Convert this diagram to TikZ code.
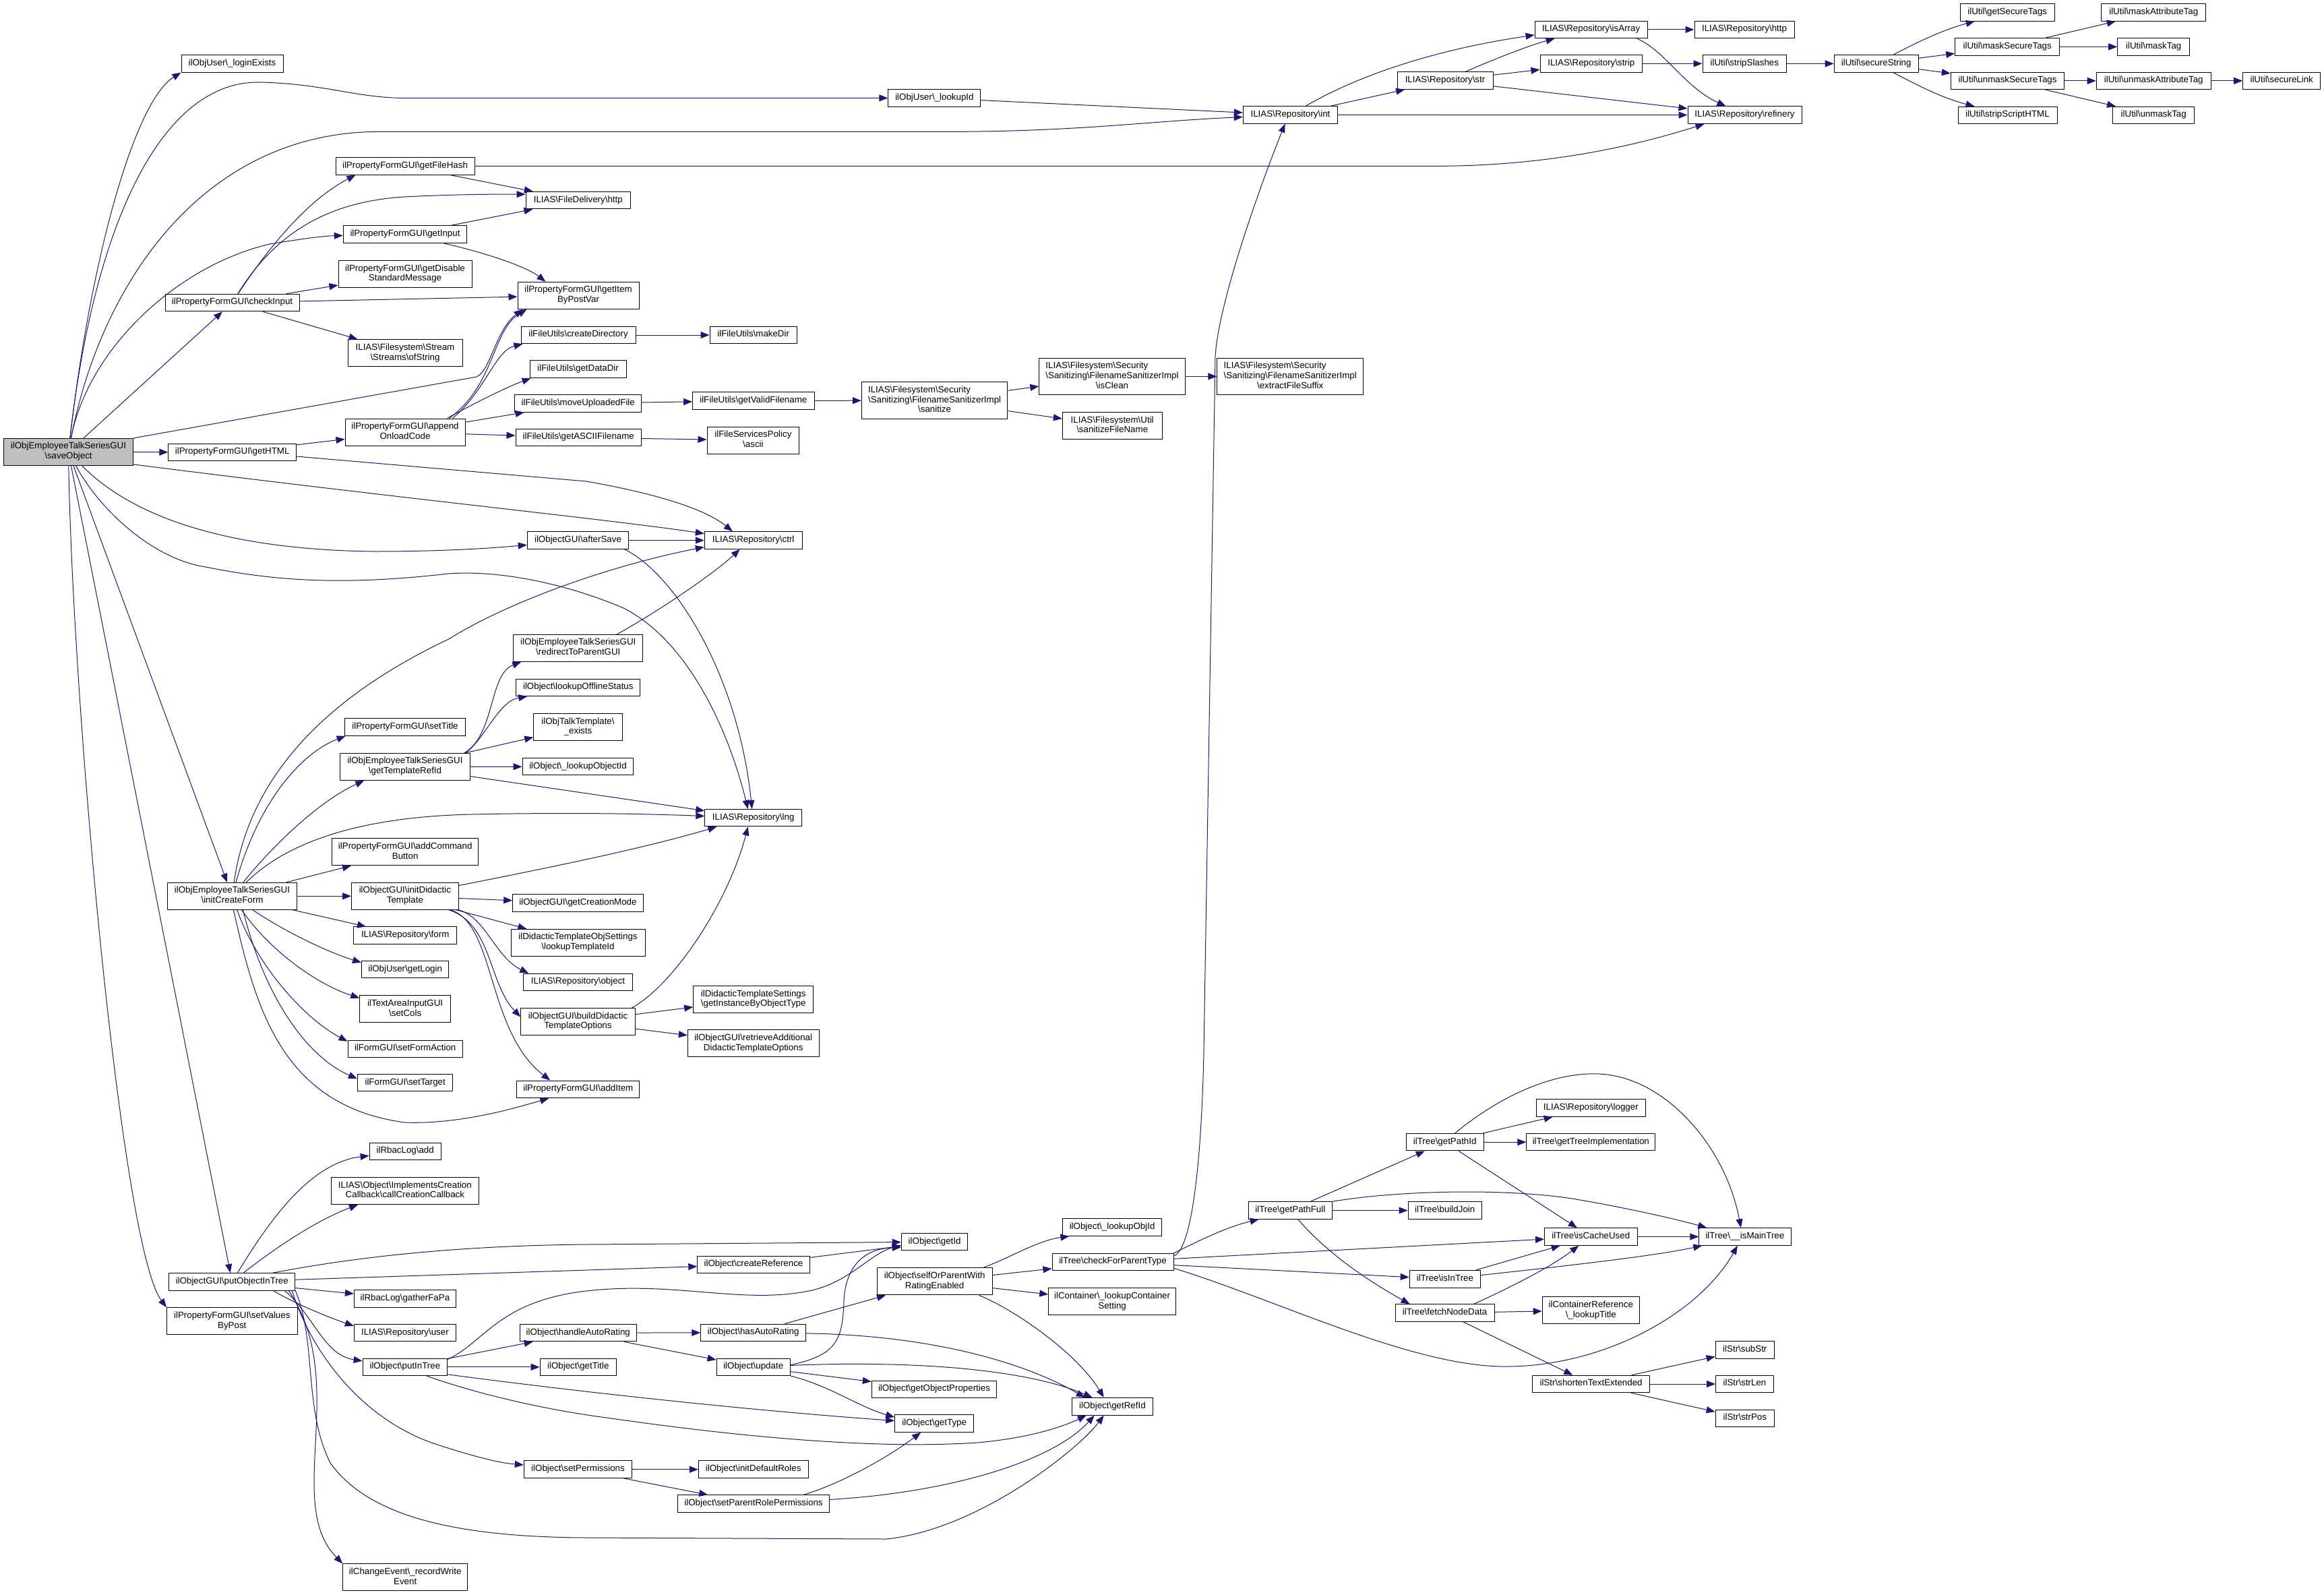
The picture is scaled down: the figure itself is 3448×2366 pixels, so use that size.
\documentclass[tikz,border=0pt]{standalone}
\usepackage{fontspec}
\setmainfont{Liberation Sans}
\usetikzlibrary{arrows.meta,calc}
\definecolor{edgeblue}{HTML}{191970}
\definecolor{mainfill}{HTML}{BFBFBF}
\newcommand{\BS}{\textbackslash}
\newlength\padlen
\newcommand{\padto}[2]{\settowidth{\padlen}{#2}\makebox[\padlen][l]{#1}}
\newcommand{\SanLine}{\BS{}Sanitizing\BS{}FilenameSanitizerImpl}
\newcommand{\SecLine}{\padto{ILIAS\BS{}Filesystem\BS{}Security}{\SanLine}}
\newcommand{\ntx}[1]{\begin{tabular}{@{}c@{}}#1\end{tabular}}
\begin{document}
\begin{tikzpicture}[x=1pt,y=-1pt,
  nbox/.style={draw=black, line width=1pt, fill=white, rectangle, inner xsep=1pt, inner ysep=0pt,
    font=\fontsize{13.33pt}{14.8pt}\selectfont},
  n1/.style={nbox, minimum height=25.5pt},
  n2/.style={nbox, minimum height=40pt},
  n3/.style={nbox, minimum height=54.6pt},
  edge/.style={draw=edgeblue, line width=1pt, -{Triangle[length=13pt,width=10pt]}}
]
\fill[white] (0,0) rectangle (3448,2366);
\useasboundingbox (0,0) rectangle (3448,2366);

% ---------- nodes ----------
\node[n2, fill=mainfill, minimum width=192pt] (S) at (101.5,670.4) {\ntx{ilObjEmployeeTalkSeriesGUI\\\BS{}saveObject}};
\node[n1, minimum width=151pt] (loginExists) at (344.5,94.4) {\ntx{ilObjUser\BS{}\_loginExists}};
\node[n1, minimum width=137pt] (lookupId) at (1386.4,145.4) {\ntx{ilObjUser\BS{}\_lookupId}};
\node[n1, minimum width=140.4pt] (int) at (1914.5,170.4) {\ntx{ILIAS\BS{}Repository\BS{}int}};
\node[n1, minimum width=142pt] (str) at (2144,119.6) {\ntx{ILIAS\BS{}Repository\BS{}str}};
\node[n1, minimum width=167pt] (isArray) at (2360.6,43.9) {\ntx{ILIAS\BS{}Repository\BS{}isArray}};
\node[n1, minimum width=151.5pt] (strip) at (2360.8,94.4) {\ntx{ILIAS\BS{}Repository\BS{}strip}};
\node[n1, minimum width=169pt] (refinery) at (2588.5,170.7) {\ntx{ILIAS\BS{}Repository\BS{}refinery}};
\node[n1, minimum width=148pt] (repHttp) at (2588,43.9) {\ntx{ILIAS\BS{}Repository\BS{}http}};
\node[n1, minimum width=124.6pt] (stripSlashes) at (2588.3,94.4) {\ntx{ilUtil\BS{}stripSlashes}};
\node[n1, minimum width=125pt] (secureString) at (2783.7,94.4) {\ntx{ilUtil\BS{}secureString}};
\node[n1, minimum width=140pt] (getSecureTags) at (2978.2,18.4) {\ntx{ilUtil\BS{}getSecureTags}};
\node[n1, minimum width=155pt] (maskSecureTags) at (2978.2,69.4) {\ntx{ilUtil\BS{}maskSecureTags}};
\node[n1, minimum width=168.4pt] (unmaskSecureTags) at (2978.5,119.9) {\ntx{ilUtil\BS{}unmaskSecureTags}};
\node[n1, minimum width=147pt] (stripScriptHTML) at (2978.5,171) {\ntx{ilUtil\BS{}stripScriptHTML}};
\node[n1, minimum width=155pt] (maskAttributeTag) at (3195.2,18.4) {\ntx{ilUtil\BS{}maskAttributeTag}};
\node[n1, minimum width=107pt] (maskTag) at (3195.2,69.4) {\ntx{ilUtil\BS{}maskTag}};
\node[n1, minimum width=170pt] (unmaskAttributeTag) at (3195.2,119.9) {\ntx{ilUtil\BS{}unmaskAttributeTag}};
\node[n1, minimum width=120.8pt] (unmaskTag) at (3195.2,171) {\ntx{ilUtil\BS{}unmaskTag}};
\node[n1, minimum width=115pt] (secureLink) at (3385.2,119.9) {\ntx{ilUtil\BS{}secureLink}};
\node[n1, minimum width=206pt] (getFileHash) at (601,246.4) {\ntx{ilPropertyFormGUI\BS{}getFileHash}};
\node[n1, minimum width=155.5pt] (fdHttp) at (857.8,297.2) {\ntx{ILIAS\BS{}FileDelivery\BS{}http}};
\node[n1, minimum width=183.5pt] (getInput) at (601,347.7) {\ntx{ilPropertyFormGUI\BS{}getInput}};
\node[n2, minimum width=198pt] (gDSM) at (601,406.6) {\ntx{ilPropertyFormGUI\BS{}getDisable\\StandardMessage}};
\node[n1, minimum width=199pt] (checkInput) at (344.5,449) {\ntx{ilPropertyFormGUI\BS{}checkInput}};
\node[n2, minimum width=180pt] (gIBPV) at (858,438.3) {\ntx{ilPropertyFormGUI\BS{}getItem\\ByPostVar}};
\node[n2, minimum width=170pt] (ofString) at (601,523.7) {\ntx{ILIAS\BS{}Filesystem\BS{}Stream\\\BS{}Streams\BS{}ofString}};
\node[n1, minimum width=170pt] (createDirectory) at (858,497) {\ntx{ilFileUtils\BS{}createDirectory}};
\node[n1, minimum width=129.4pt] (makeDir) at (1117.7,497) {\ntx{ilFileUtils\BS{}makeDir}};
\node[n1, minimum width=143pt] (getDataDir) at (857.5,547.7) {\ntx{ilFileUtils\BS{}getDataDir}};
\node[n1, minimum width=188pt] (moveUploadedFile) at (857.8,598.5) {\ntx{ilFileUtils\BS{}moveUploadedFile}};
\node[n1, minimum width=180.4pt] (getValidFilename) at (1117.8,594.4) {\ntx{ilFileUtils\BS{}getValidFilename}};
\node[n3, minimum width=216.5pt] (sanitize) at (1386.6,594.1) {\ntx{\SecLine\\\SanLine\\\BS{}sanitize}};
\node[n3, minimum width=216.3pt] (isClean) at (1650,558.4) {\ntx{\SecLine\\\SanLine\\\BS{}isClean}};
\node[n3, minimum width=216.5pt] (extractFileSuffix) at (1914.2,558.4) {\ntx{\SecLine\\\SanLine\\\BS{}extractFileSuffix}};
\node[n2, minimum width=147.6pt] (sanitizeFileName) at (1650.2,631.6) {\ntx{ILIAS\BS{}Filesystem\BS{}Util\\\BS{}sanitizeFileName}};
\node[n1, minimum width=186.6pt] (getASCIIFilename) at (858.3,649) {\ntx{ilFileUtils\BS{}getASCIIFilename}};
\node[n2, minimum width=136.8pt] (ascii) at (1117.4,653.1) {\ntx{ilFileServicesPolicy\\\BS{}ascii}};
\node[n2, minimum width=178pt] (aOC) at (601,641) {\ntx{ilPropertyFormGUI\BS{}append\\OnloadCode}};
\node[n1, minimum width=189.5pt] (getHTML) at (344.7,671) {\ntx{ilPropertyFormGUI\BS{}getHTML}};
\node[n1, minimum width=150.4pt] (afterSave) at (857.5,801.5) {\ntx{ilObjectGUI\BS{}afterSave}};
\node[n1, minimum width=144.8pt] (ctrl) at (1117.7,801.5) {\ntx{ILIAS\BS{}Repository\BS{}ctrl}};
\node[n1, minimum width=143.7pt] (lng) at (1117.7,1213.2) {\ntx{ILIAS\BS{}Repository\BS{}lng}};
\node[n2, minimum width=192pt] (redirect) at (857.8,961.4) {\ntx{ilObjEmployeeTalkSeriesGUI\\\BS{}redirectToParentGUI}};
\node[n1, minimum width=184.2pt] (lookupOfflineStatus) at (857.8,1019.8) {\ntx{ilObject\BS{}lookupOfflineStatus}};
\node[n2, minimum width=131.5pt] (exists) at (857.5,1078.5) {\ntx{ilObjTalkTemplate\BS{}\\\_exists}};
\node[n1, minimum width=164.8pt] (lookupObjectId) at (857.5,1137.2) {\ntx{ilObject\BS{}\_lookupObjectId}};
\node[n1, minimum width=179.8pt] (setTitle) at (601,1078.5) {\ntx{ilPropertyFormGUI\BS{}setTitle}};
\node[n2, minimum width=192.5pt] (gTRI) at (601,1137.4) {\ntx{ilObjEmployeeTalkSeriesGUI\\\BS{}getTemplateRefId}};
\node[n2, minimum width=217pt] (addCommandButton) at (601.2,1263.7) {\ntx{ilPropertyFormGUI\BS{}addCommand\\Button}};
\node[n2, minimum width=192pt] (iCF) at (344.5,1329.3) {\ntx{ilObjEmployeeTalkSeriesGUI\\\BS{}initCreateForm}};
\node[n2, minimum width=158.7pt] (iDT) at (600.9,1329.3) {\ntx{ilObjectGUI\BS{}initDidactic\\Template}};
\node[n1, minimum width=193.6pt] (getCreationMode) at (857.5,1339.7) {\ntx{ilObjectGUI\BS{}getCreationMode}};
\node[n2, minimum width=199pt] (lookupTemplateId) at (857.5,1398.4) {\ntx{ilDidacticTemplateObjSettings\\\BS{}lookupTemplateId}};
\node[n1, minimum width=161.4pt] (repObject) at (857.5,1457) {\ntx{ILIAS\BS{}Repository\BS{}object}};
\node[n2, minimum width=169.2pt] (bDTO) at (857.5,1515.5) {\ntx{ilObjectGUI\BS{}buildDidactic\\TemplateOptions}};
\node[n2, minimum width=178.1pt] (getInstance) at (1117.7,1482.6) {\ntx{ilDidacticTemplateSettings\\\BS{}getInstanceByObjectType}};
\node[n2, minimum width=194.7pt] (retrieve) at (1117.7,1547.9) {\ntx{ilObjectGUI\BS{}retrieveAdditional\\DidacticTemplateOptions}};
\node[n1, minimum width=152.6pt] (repForm) at (601.2,1387.7) {\ntx{ILIAS\BS{}Repository\BS{}form}};
\node[n1, minimum width=129.3pt] (getLogin) at (601.2,1438.2) {\ntx{ilObjUser\BS{}getLogin}};
\node[n2, minimum width=134.8pt] (setCols) at (601.2,1496.9) {\ntx{ilTextAreaInputGUI\\\BS{}setCols}};
\node[n1, minimum width=170.3pt] (setFormAction) at (601.2,1556) {\ntx{ilFormGUI\BS{}setFormAction}};
\node[n1, minimum width=141.5pt] (setTarget) at (601.2,1606.2) {\ntx{ilFormGUI\BS{}setTarget}};
\node[n1, minimum width=182pt] (addItem) at (857.8,1615.8) {\ntx{ilPropertyFormGUI\BS{}addItem}};
\node[n1, minimum width=106pt] (rbacAdd) at (601.2,1707.8) {\ntx{ilRbacLog\BS{}add}};
\node[n2, minimum width=218.6pt] (callback) at (600.9,1766.6) {\ntx{ILIAS\BS{}Object\BS{}ImplementsCreation\\Callback\BS{}callCreationCallback}};
\node[n1, minimum width=187pt] (pOIT) at (344.3,1901.3) {\ntx{ilObjectGUI\BS{}putObjectInTree}};
\node[n2, minimum width=193.6pt] (setValues) at (344.3,1959.7) {\ntx{ilPropertyFormGUI\BS{}setValues\\ByPost}};
\node[n1, minimum width=151pt] (gatherFaPa) at (600.9,1926.6) {\ntx{ilRbacLog\BS{}gatherFaPa}};
\node[n1, minimum width=151pt] (repUser) at (600.9,1977.1) {\ntx{ILIAS\BS{}Repository\BS{}user}};
\node[n1, minimum width=125.4pt] (putInTree) at (600.9,2027.8) {\ntx{ilObject\BS{}putInTree}};
\node[n1, minimum width=173.1pt] (handleAutoRating) at (857.8,1977.1) {\ntx{ilObject\BS{}handleAutoRating}};
\node[n1, minimum width=113.2pt] (getTitle) at (857.8,2027.8) {\ntx{ilObject\BS{}getTitle}};
\node[n1, minimum width=160.4pt] (setPermissions) at (857.5,2179.7) {\ntx{ilObject\BS{}setPermissions}};
\node[n2, minimum width=184.8pt] (recordWrite) at (601.2,2339.8) {\ntx{ilChangeEvent\BS{}\_recordWrite\\Event}};
\node[n1, minimum width=98.7pt] (getId) at (1386.6,1842.2) {\ntx{ilObject\BS{}getId}};
\node[n1, minimum width=166.4pt] (createReference) at (1118,1875.9) {\ntx{ilObject\BS{}createReference}};
\node[n2, minimum width=170.9pt] (selfOrParent) at (1386.6,1900.9) {\ntx{ilObject\BS{}selfOrParentWith\\RatingEnabled}};
\node[n1, minimum width=155.9pt] (hasAutoRating) at (1117.7,1976.8) {\ntx{ilObject\BS{}hasAutoRating}};
\node[n1, minimum width=109.3pt] (update) at (1117.7,2027.8) {\ntx{ilObject\BS{}update}};
\node[n1, minimum width=185.4pt] (getObjectProperties) at (1386,2060.9) {\ntx{ilObject\BS{}getObjectProperties}};
\node[n1, minimum width=117.1pt] (getType) at (1386.2,2111.6) {\ntx{ilObject\BS{}getType}};
\node[n1, minimum width=162.6pt] (initDefaultRoles) at (1117.7,2179.7) {\ntx{ilObject\BS{}initDefaultRoles}};
\node[n1, minimum width=225.3pt] (setParentRolePermissions) at (1118,2230.6) {\ntx{ilObject\BS{}setParentRolePermissions}};
\node[n1, minimum width=120.4pt] (getRefId) at (1650.4,2086.3) {\ntx{ilObject\BS{}getRefId}};
\node[n1, minimum width=146.5pt] (lookupObjId) at (1650.1,1820.6) {\ntx{ilObject\BS{}\_lookupObjId}};
\node[n1, minimum width=180pt] (checkForParentType) at (1651,1872) {\ntx{ilTree\BS{}checkForParentType}};
\node[n2, minimum width=188.6pt] (lookupContainerSetting) at (1650.1,1930.7) {\ntx{ilContainer\BS{}\_lookupContainer\\Setting}};
\node[n1, minimum width=114.9pt] (getPathId) at (2143.7,1694.2) {\ntx{ilTree\BS{}getPathId}};
\node[n1, minimum width=162pt] (logger) at (2360.3,1643.5) {\ntx{ILIAS\BS{}Repository\BS{}logger}};
\node[n1, minimum width=190.9pt] (getTreeImplementation) at (2360.3,1694.2) {\ntx{ilTree\BS{}getTreeImplementation}};
\node[n1, minimum width=124.3pt] (getPathFull) at (1914.3,1795.5) {\ntx{ilTree\BS{}getPathFull}};
\node[n1, minimum width=109.3pt] (buildJoin) at (2143.7,1795.5) {\ntx{ilTree\BS{}buildJoin}};
\node[n1, minimum width=137.6pt] (isCacheUsed) at (2360.3,1834.5) {\ntx{ilTree\BS{}isCacheUsed}};
\node[n1, minimum width=136.3pt] (isMainTree) at (2588.9,1834.5) {\ntx{ilTree\BS{}\_\_isMainTree}};
\node[n1, minimum width=105.4pt] (isInTree) at (2143.9,1897.3) {\ntx{ilTree\BS{}isInTree}};
\node[n1, minimum width=147pt] (fetchNodeData) at (2143.6,1947.6) {\ntx{ilTree\BS{}fetchNodeData}};
\node[n2, minimum width=144.2pt] (lookupTitle) at (2360.3,1943.7) {\ntx{ilContainerReference\\\BS{}\_lookupTitle}};
\node[n1, minimum width=173.7pt] (sTE) at (2360.6,2053) {\ntx{ilStr\BS{}shortenTextExtended}};
\node[n1, minimum width=87.3pt] (subStr) at (2588.8,2002.6) {\ntx{ilStr\BS{}subStr}};
\node[n1, minimum width=85.8pt] (strLen) at (2588.5,2053) {\ntx{ilStr\BS{}strLen}};
\node[n1, minimum width=87.3pt] (strPos) at (2588.8,2103.9) {\ntx{ilStr\BS{}strPos}};

% ---------- edges ----------
% saveObject
\draw[edge] (S) .. controls (135,380) and (200,150) .. (loginExists.south west);
\draw[edge] (S) .. controls (140,330) and (240,120) .. (385,122) .. controls (480,124) and (530,145.4) .. (600,145.4) -- (lookupId);
\draw[edge] (S) .. controls (150,420) and (300,200) .. (555,195.4) -- (1400,195.4) .. controls (1600,195.4) and (1700,180) .. (int);
\draw[edge] (S) -- (checkInput);
\draw[edge] (S) .. controls (130,520) and (260,395) .. (400,362) .. controls (450,354) and (480,350) .. (getInput);
\draw[edge] (S.north east) -- (707,559) .. controls (728,550) and (735,490) .. ($(gIBPV.south west)+(8,0)$);
\draw[edge] (S) -- (getHTML);
\draw[edge] ($(S.south east)+(0,-2)$) .. controls (600,740) and (900,770) .. ($(ctrl.west)+(0,-10)$);
\draw[edge] (S) .. controls (180,750) and (300,815) .. (555,818) .. controls (650,818) and (720,814) .. (afterSave);
\draw[edge] (S) .. controls (150,760) and (230,830) .. (305,841) .. controls (400,860) and (500,870) .. (665,851) .. controls (750,845) and (850,870) .. (925,902) .. controls (1020,950) and (1080,1080) .. ($(lng.north)+(-8,0)$);
\draw[edge] (S) -- (iCF);
\draw[edge] (S) -- (pOIT);
\draw[edge] (S) .. controls (108,1050) and (180,1850) .. (setValues.north west);
% checkInput & co
\draw[edge] (checkInput) .. controls (390,380) and (450,300) .. ($(getFileHash.south west)+(30,0)$);
\draw[edge] (checkInput) .. controls (400,360) and (470,300) .. (600,292) .. controls (680,288) and (740,288) .. ($(fdHttp.west)+(0,-9)$);
\draw[edge] (checkInput) -- (gDSM);
\draw[edge] (checkInput) -- (gIBPV);
\draw[edge] (checkInput) -- (ofString);
\draw[edge] (getFileHash) -- (fdHttp);
\draw[edge] (getFileHash) -- (2128,246.4) .. controls (2300,246.4) and (2430,215) .. ($(refinery.south west)+(25,0)$);
\draw[edge] (getInput) -- (fdHttp);
\draw[edge] (getInput) .. controls (720,375) and (780,395) .. ($(gIBPV.north west)+(42,0)$);
\draw[edge] (getHTML) -- (aOC);
\draw[edge] ($(getHTML.east)+(0,6)$) -- (870,714) .. controls (950,728) and (1040,750) .. ($(ctrl.north west)+(42,0)$);
\draw[edge] ($(aOC.north east)+(-24,0)$) .. controls (735,570) and (730,490) .. ($(gIBPV.south west)+(14,0)$);
\draw[edge] ($(aOC.north east)+(-19,0)$) .. controls (720,580) and (735,520) .. ($(createDirectory.south west)+(3,0)$);
\draw[edge] ($(aOC.north east)+(-27,0)$) .. controls (700,600) and (750,575) .. ($(getDataDir.south west)+(2,0)$);
\draw[edge] (aOC) -- (moveUploadedFile);
\draw[edge] (aOC) -- (getASCIIFilename);
\draw[edge] (createDirectory) -- (makeDir);
\draw[edge] (moveUploadedFile) -- (getValidFilename);
\draw[edge] (getASCIIFilename) -- (ascii);
\draw[edge] (getValidFilename) -- (sanitize);
\draw[edge] (sanitize) -- (isClean);
\draw[edge] (sanitize) -- (sanitizeFileName);
\draw[edge] (isClean) -- (extractFileSuffix);
% repository helpers
\draw[edge] (lookupId) -- (int);
\draw[edge] (int) .. controls (2010,115) and (2120,75) .. ($(isArray.west)+(0,8)$);
\draw[edge] (int) -- (str);
\draw[edge] (int) -- (refinery);
\draw[edge] (str) .. controls (2200,95) and (2260,70) .. ($(isArray.south west)+(30,0)$);
\draw[edge] (str) -- (strip);
\draw[edge] (str) -- (refinery);
\draw[edge] (isArray) -- (repHttp);
\draw[edge] ($(isArray.south east)+(-16,0)$) .. controls (2470,75) and (2500,130) .. ($(refinery.north west)+(57,0)$);
\draw[edge] (strip) -- (stripSlashes);
\draw[edge] (stripSlashes) -- (secureString);
\draw[edge] (secureString) .. controls (2840,65) and (2880,45) .. ($(getSecureTags.south west)+(22,0)$);
\draw[edge] (secureString) -- (maskSecureTags);
\draw[edge] (secureString) -- (unmaskSecureTags);
\draw[edge] (secureString) .. controls (2840,124) and (2880,145) .. ($(stripScriptHTML.north west)+(25,0)$);
\draw[edge] (maskSecureTags) -- (maskAttributeTag);
\draw[edge] (maskSecureTags) -- (maskTag);
\draw[edge] (unmaskSecureTags) -- (unmaskAttributeTag);
\draw[edge] (unmaskSecureTags) -- (unmaskTag);
\draw[edge] (unmaskAttributeTag) -- (secureLink);
% afterSave, redirect
\draw[edge] (afterSave) -- (ctrl);
\draw[edge] ($(afterSave.south east)+(-7,0)$) .. controls (1000,850) and (1095,1000) .. ($(lng.north)+(-2,0)$);
\draw[edge] ($(redirect.north east)+(-39,0)$) .. controls (980,905) and (1060,850) .. ($(ctrl.south)+(-20,0)$);
% initCreateForm
\draw[edge] (iCF) .. controls (365,1180) and (450,1050) .. (665.8,948) .. controls (750,895) and (900,840) .. ($(ctrl.west)+(0,10)$);
\draw[edge] (iCF) .. controls (380,1200) and (440,1120) .. ($(setTitle.south west)+(2,0)$);
\draw[edge] (iCF) .. controls (400,1260) and (470,1190) .. ($(gTRI.south west)+(36,0)$);
\draw[edge] (iCF) .. controls (420,1255) and (520,1212) .. (700,1208) .. controls (850,1205) and (950,1207) .. (lng);
\draw[edge] (iCF) -- (addCommandButton);
\draw[edge] (iCF) -- (iDT);
\draw[edge] (iCF) -- (repForm);
\draw[edge] (iCF) .. controls (420,1380) and (480,1410) .. ($(getLogin.north west)+(0,3)$);
\draw[edge] (iCF) .. controls (400,1410) and (470,1460) .. ($(setCols.north west)+(0,4)$);
\draw[edge] (iCF) .. controls (380,1430) and (450,1510) .. ($(setFormAction.north west)+(0,2)$);
\draw[edge] ($(iCF.south)+(16,0)$) .. controls (390,1470) and (450,1565) .. ($(setTarget.west)+(0,-6)$);
\draw[edge] ($(iCF.south)+(2,0)$) .. controls (380,1500) and (420,1640) .. (600,1665) .. controls (680,1668) and (760,1645) .. ($(addItem.south west)+(48,0)$);
% initDidacticTemplate
\draw[edge] (iDT) .. controls (800,1290) and (950,1260) .. ($(lng.south west)+(18,0)$);
\draw[edge] (iDT) -- (getCreationMode);
\draw[edge] (iDT) -- (lookupTemplateId);
\draw[edge] (iDT) .. controls (720,1360) and (735,1420) .. ($(repObject.north west)+(8,0)$);
\draw[edge] (iDT) .. controls (730,1370) and (725,1460) .. ($(bDTO.west)+(0,-7)$);
\draw[edge] (iDT) .. controls (735,1370) and (722,1530) .. ($(addItem.north west)+(50,0)$);
% getTemplateRefId
\draw[edge] ($(gTRI.north east)+(-9,0)$) .. controls (735,1090) and (725,1000) .. ($(redirect.south west)+(12,0)$);
\draw[edge] ($(gTRI.north east)+(-7,0)$) .. controls (720,1095) and (740,1040) .. ($(lookupOfflineStatus.south west)+(17,0)$);
\draw[edge] (gTRI) -- (exists);
\draw[edge] (gTRI) -- (lookupObjectId);
\draw[edge] (gTRI) -- (lng);
% buildDidacticTemplateOptions
\draw[edge] ($(bDTO.north east)+(-5,0)$) .. controls (1000,1460) and (1080,1340) .. ($(lng.south)+(-8,0)$);
\draw[edge] (bDTO) -- (getInstance);
\draw[edge] (bDTO) -- (retrieve);
% putObjectInTree
\draw[edge] (pOIT) .. controls (400,1810) and (460,1725) .. (rbacAdd);
\draw[edge] (pOIT) .. controls (410,1850) and (470,1810) .. ($(callback.south west)+(40,0)$);
\draw[edge] ($(pOIT.north east)+(-33,0)$) .. controls (500,1870) and (650,1848) .. (870,1846) -- (getId);
\draw[edge] (pOIT) -- (createReference);
\draw[edge] (pOIT) -- (gatherFaPa);
\draw[edge] ($(pOIT.south east)+(-33,0)$) .. controls (440,1935) and (490,1955) .. ($(repUser.north west)+(0,3)$);
\draw[edge] ($(pOIT.south east)+(-16,0)$) .. controls (465,1950) and (480,2010) .. ($(putInTree.west)+(0,-9)$);
\draw[edge] ($(pOIT.south east)+(-5,0)$) .. controls (460,2000) and (530,2100) .. (640,2140) .. controls (700,2160) and (740,2170) .. (setPermissions);
\draw[edge] (pOIT.south east) .. controls (470,1990) and (450,2090) .. (490,2170) .. controls (540,2240) and (650,2280) .. (870,2281) -- (1314,2283) .. controls (1450,2270) and (1600,2150) .. ($(getRefId.south west)+(48,0)$);
\draw[edge] ($(pOIT.south east)+(-10,0)$) .. controls (520,2050) and (420,2230) .. (recordWrite.north west);
% putInTree
\draw[edge] ($(putInTree.north east)+(0,2)$) .. controls (720,1990) and (740,1930) .. (870,1915) .. controls (1000,1900) and (1100,1935) .. (1200,1915) .. controls (1260,1903) and (1290,1860) .. ($(getId.west)+(0,5)$);
\draw[edge] (putInTree) -- (handleAutoRating);
\draw[edge] (putInTree) -- (getTitle);
\draw[edge] ($(putInTree.east)+(0,11)$) .. controls (900,2070) and (1150,2095) .. (getType);
\draw[edge] ($(putInTree.south east)+(-31,0)$) .. controls (700,2065) and (800,2090) .. (900,2103) .. controls (1100,2132) and (1300,2150) .. (1450,2140) .. controls (1530,2133) and (1580,2115) .. ($(getRefId.south west)+(22,0)$);
% rating / update
\draw[edge] (handleAutoRating) -- (hasAutoRating);
\draw[edge] (handleAutoRating) -- (update);
\draw[edge] (hasAutoRating) -- (selfOrParent);
\draw[edge] (hasAutoRating) .. controls (1350,1980) and (1500,2010) .. ($(getRefId.north west)+(20,0)$);
\draw[edge] ($(update.east)+(0,-3)$) .. controls (1240,2010) and (1250,1990) .. (1252,1930) .. controls (1255,1870) and (1290,1852) .. ($(getId.west)+(0,8)$);
\draw[edge] (update) .. controls (1350,2018) and (1520,2030) .. ($(getRefId.north west)+(31,0)$);
\draw[edge] (update) -- (getObjectProperties);
\draw[edge] (update.south east) .. controls (1230,2055) and (1270,2085) .. ($(getType.north west)+(0,4)$);
\draw[edge] ($(selfOrParent.north east)+(-14,0)$) .. controls (1500,1865) and (1540,1840) .. ($(lookupObjId.south west)+(10,0)$);
\draw[edge] (selfOrParent) -- (checkForParentType);
\draw[edge] (selfOrParent) -- (lookupContainerSetting);
\draw[edge] ($(selfOrParent.south east)+(-20,0)$) .. controls (1510,1945) and (1600,2010) .. ($(getRefId.north west)+(48,0)$);
\draw[edge] (createReference) -- (getId);
% permissions
\draw[edge] (setPermissions) -- (initDefaultRoles);
\draw[edge] (setPermissions) -- (setParentRolePermissions);
\draw[edge] ($(setParentRolePermissions.north east)+(-39,0)$) .. controls (1250,2200) and (1320,2160) .. ($(getType.south)+(-20,0)$);
\draw[edge] (setParentRolePermissions) .. controls (1400,2215) and (1560,2170) .. ($(getRefId.south west)+(34,0)$);
% tree
\draw[edge] ($(checkForParentType.east)+(0,-9)$) .. controls (1765,1855) and (1782,1750) .. (1786,1560) -- (1803,530) .. controls (1806,460) and (1860,300) .. ($(int.south)+(-8,0)$);
\draw[edge] (checkForParentType.north east) .. controls (1780,1840) and (1820,1820) .. ($(getPathFull.south west)+(16,0)$);
\draw[edge] (checkForParentType) -- (isCacheUsed);
\draw[edge] (checkForParentType) -- (isInTree);
\draw[edge] ($(checkForParentType.south east)+(0,-4)$) .. controls (1900,1930) and (2100,2030) .. (2240,2027) .. controls (2380,2025) and (2520,1950) .. ($(isMainTree.south)+(-11,0)$);
\draw[edge] (getPathFull) -- (getPathId);
\draw[edge] (getPathFull) -- (buildJoin);
\draw[edge] (getPathFull.north east) .. controls (2080,1765) and (2250,1762) .. (2350,1781) .. controls (2430,1795) and (2500,1812) .. ($(isMainTree.north west)+(12,0)$);
\draw[edge] (getPathFull) .. controls (1970,1860) and (2030,1900) .. ($(fetchNodeData.north west)+(22,0)$);
\draw[edge] (getPathId) -- (logger);
\draw[edge] (getPathId) -- (getTreeImplementation);
\draw[edge] (getPathId) -- (isCacheUsed);
\draw[edge] ($(getPathId.north)+(15,0)$) .. controls (2220,1630) and (2300,1590) .. (2372,1593) .. controls (2470,1597) and (2560,1700) .. ($(isMainTree.north)+(-6,0)$);
\draw[edge] (isCacheUsed) -- (isMainTree);
\draw[edge] (isInTree) -- (isCacheUsed);
\draw[edge] (isInTree) .. controls (2350,1875) and (2460,1862) .. ($(isMainTree.south west)+(5,0)$);
\draw[edge] ($(fetchNodeData.north)+(43,0)$) .. controls (2240,1910) and (2300,1880) .. ($(isCacheUsed.south)+(-18,0)$);
\draw[edge] (fetchNodeData) -- (lookupTitle);
\draw[edge] (fetchNodeData) -- (sTE);
\draw[edge] (sTE) -- (subStr);
\draw[edge] (sTE) -- (strLen);
\draw[edge] (sTE) -- (strPos);
\end{tikzpicture}
\end{document}
